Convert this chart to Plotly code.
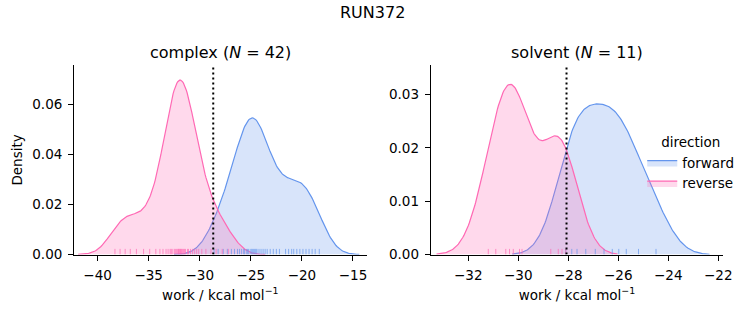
import numpy as np
import plotly.graph_objects as go

# ---- data (work values, kcal/mol) ----
complex_forward = [-28.6, -28.2, -27.7, -27.3, -26.9, -26.6, -26.3, -26.1, -25.9, -25.7,
                   -25.6, -25.4, -25.3, -25.2, -25.0, -24.9, -24.8, -24.7, -24.6, -24.5,
                   -24.4, -24.2, -24.0, -23.8, -23.6, -23.4, -23.1, -22.8, -22.5, -22.2,
                   -21.6, -21.3, -21.0, -20.8, -20.5, -20.2, -19.9, -19.6, -19.3, -19.0,
                   -18.7, -18.3]
complex_reverse = [-38.3, -37.8, -37.3, -36.8, -36.2, -35.5, -34.9, -34.3, -33.9, -33.6,
                   -33.3, -33.1, -32.9, -32.8, -32.7, -32.5, -32.4, -32.3, -32.2, -32.1,
                   -32.05, -32.0, -31.9, -31.85, -31.8, -31.7, -31.6, -31.5, -31.4, -31.2,
                   -31.1, -30.9, -30.7, -30.5, -30.3, -30.1, -29.8, -29.4, -28.9, -28.4,
                   -27.8, -27.2]
solvent_forward = [-28.1, -27.86, -27.65, -27.3, -26.92, -26.57, -26.24, -25.98, -25.68,
                   -25.19, -24.49]
solvent_reverse = [-31.2, -30.9, -30.5, -30.35, -30.2, -29.95, -29.85, -28.7, -28.4,
                   -28.25, -28.1]
dg_complex = -28.68
dg_solvent = -28.07
phases = ["complex", "solvent"]
directions = ["forward", "reverse"]
complex_xticks = [-40, -35, -30, -25, -20, -15]
solvent_xticks = [-32, -30, -28, -26, -24, -22]
complex_yticks = [0.00, 0.02, 0.04, 0.06]
solvent_yticks = [0.00, 0.01, 0.02, 0.03]

data = {"complex": {"forward": complex_forward, "reverse": complex_reverse},
        "solvent": {"forward": solvent_forward, "reverse": solvent_reverse}}
dg = {"complex": dg_complex, "solvent": dg_solvent}
total_n = sum(len(v) for p in data.values() for v in p.values())

line_col = {"forward": "rgb(100,149,237)", "reverse": "rgb(255,105,180)"}
fill_col = {"forward": "rgba(100,149,237,0.25)", "reverse": "rgba(255,105,180,0.25)"}
rug_col = {"forward": "rgba(100,149,237,0.7)", "reverse": "rgba(255,105,180,0.7)"}


def kde(values, norm_n):
    v = np.asarray(values, float)
    n = len(v)
    bw = v.std(ddof=1) * n ** (-1 / 5)
    grid = np.linspace(v.min() - 3 * bw, v.max() + 3 * bw, 200)
    dens = np.exp(-0.5 * ((grid[:, None] - v[None, :]) / bw) ** 2).sum(1)
    dens /= (n * bw * np.sqrt(2 * np.pi))
    return grid, dens * n / norm_n


font = "DejaVu Sans, sans-serif"
fig = go.Figure()
yr = {"complex": 0.0757, "solvent": 0.0355}
axes = {"complex": ("x", "y"), "solvent": ("x2", "y2")}

for p in phases:
    xa, ya = axes[p]
    for d in directions:
        gx, gy = kde(data[p][d], total_n)
        fig.add_trace(go.Scatter(x=gx, y=gy, mode="lines", fill="tozeroy",
                                 fillcolor=fill_col[d], line=dict(color=line_col[d], width=1.2),
                                 name=d, legendgroup=d, showlegend=(p == "complex"),
                                 xaxis=xa, yaxis=ya))
    for d in directions:
        rx, ry = [], []
        h = 0.03 * yr[p]
        for v in data[p][d]:
            rx += [v, v, None]
            ry += [0, h, None]
        fig.add_trace(go.Scatter(x=rx, y=ry, mode="lines", line=dict(color=rug_col[d], width=1),
                                 showlegend=False, hoverinfo="skip", xaxis=xa, yaxis=ya))
    fig.add_trace(go.Scatter(x=[dg[p], dg[p]], y=[0, yr[p]], mode="lines",
                             line=dict(color="black", width=2, dash="2px,3px"),
                             showlegend=False, xaxis=xa, yaxis=ya))

axis_common = dict(showline=True, linecolor="black", linewidth=1.1, ticks="outside",
                   ticklen=5, tickwidth=1.1, tickcolor="black", showgrid=False, zeroline=False,
                   tickfont=dict(family=font, size=13.5, color="black"), mirror=False,
                   ticklabelstandoff=3)

fig.update_layout(
    width=753, height=325, margin=dict(l=0, r=0, t=0, b=0),
    paper_bgcolor="white", plot_bgcolor="white",
    font=dict(family=font, color="black"),
    xaxis=dict(domain=[75 / 753, 371 / 753], range=[-42.3, -13.67], tickvals=complex_xticks,
               title=dict(text="work / kcal mol<sup>−1</sup>", font=dict(size=13.5), standoff=8),
               **axis_common),
    yaxis=dict(domain=[64 / 325, 258 / 325], range=[0, yr["complex"]], tickvals=complex_yticks,
               tickformat=".2f", title=dict(text="Density", font=dict(size=13.5), standoff=6),
               **axis_common),
    xaxis2=dict(domain=[436 / 753, 732 / 753], range=[-33.5, -21.8], tickvals=solvent_xticks,
                title=dict(text="work / kcal mol<sup>−1</sup>", font=dict(size=13.5), standoff=8),
                anchor="y2", **axis_common),
    yaxis2=dict(domain=[64 / 325, 258 / 325], range=[0, yr["solvent"]], tickvals=solvent_yticks,
                tickformat=".2f", anchor="x2", **axis_common),
    legend=dict(x=650 / 753, y=1 - 133 / 325, xanchor="left", yanchor="top",
                title=dict(text="direction", side="top center", font=dict(size=13.5)),
                font=dict(size=13.5), bgcolor="rgba(0,0,0,0)", tracegroupgap=0),
    showlegend=True,
    annotations=[
        dict(text="RUN372", x=0.5, y=1 - 13 / 325, xref="paper", yref="paper",
             showarrow=False, font=dict(size=16, family=font), xanchor="center",
             yanchor="middle"),
        dict(text="complex (<i>N</i> = 42)", x=223 / 753, y=1 - 54 / 325, xref="paper",
             yref="paper", showarrow=False, font=dict(size=16, family=font),
             xanchor="center", yanchor="middle"),
        dict(text="solvent (<i>N</i> = 11)", x=584 / 753, y=1 - 54 / 325, xref="paper",
             yref="paper", showarrow=False, font=dict(size=16, family=font),
             xanchor="center", yanchor="middle"),
    ],
)

fig.write_html("out.html")
